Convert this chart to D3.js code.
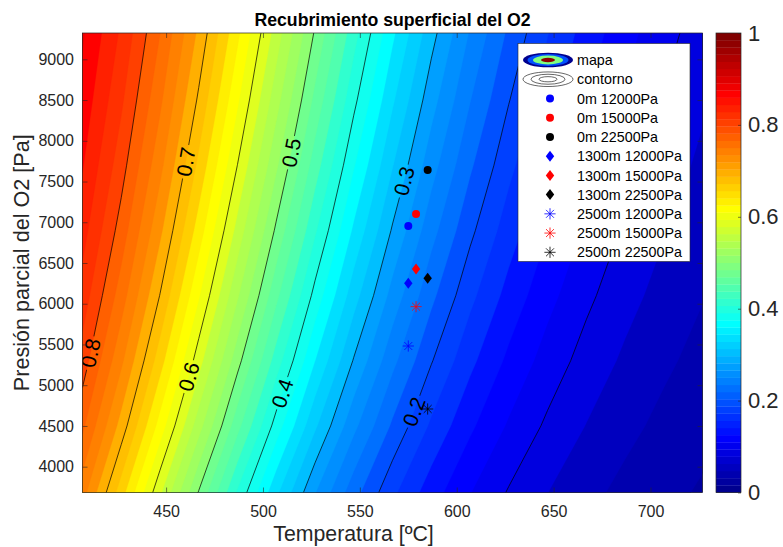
<!DOCTYPE html>
<html><head><meta charset="utf-8">
<script src="https://cdn.jsdelivr.net/npm/d3@7"></script>
<style>
body{margin:0;background:#fff;}
svg text{font-family:"Liberation Sans",Arial,Helvetica,sans-serif;}
</style>
</head><body>
<svg id="chart" width="783" height="547"></svg>
<script>
// ---------------- DATA ----------------
// Grid of the coverage map: temperature columns [ºC] and O2 partial-pressure rows [Pa]
const tempsC = [406.85,426.85,446.85,466.85,486.85,506.85,526.85,546.85,566.85,586.85,606.85,626.85,646.85,666.85,686.85,706.85,726.85];
const pressureRows = [3685,4500,5300,6100,6900,7700,8500,9320];
// surface coverage values, one array per pressure row
const cov3685 = [0.7487,0.6693,0.5841,0.4986,0.4176,0.3445,0.2813,0.2282,0.1846,0.1493,0.1209,0.0983,0.0803,0.0659,0.0544,0.0452,0.0378];
const cov4500 = [0.7843,0.7119,0.6317,0.5484,0.4668,0.3910,0.3234,0.2653,0.2166,0.1765,0.1438,0.1175,0.0964,0.0794,0.0657,0.0547,0.0457];
const cov5300 = [0.8108,0.7443,0.6689,0.5886,0.5077,0.4305,0.3602,0.2984,0.2456,0.2015,0.1652,0.1356,0.1116,0.0922,0.0765,0.0638,0.0534];
const cov6100 = [0.8314,0.7701,0.6993,0.6221,0.5427,0.4653,0.3932,0.3286,0.2726,0.2251,0.1855,0.1529,0.1263,0.1046,0.0870,0.0727,0.0610];
const cov6900 = [0.8480,0.7912,0.7245,0.6506,0.5731,0.4961,0.4230,0.3564,0.2977,0.2473,0.2049,0.1696,0.1406,0.1168,0.0973,0.0814,0.0684];
const cov7700 = [0.8615,0.8087,0.7459,0.6751,0.5997,0.5234,0.4499,0.3819,0.3211,0.2683,0.2233,0.1856,0.1543,0.1285,0.1074,0.0900,0.0758];
const cov8500 = [0.8729,0.8236,0.7642,0.6964,0.6232,0.5480,0.4745,0.4055,0.3430,0.2881,0.2409,0.2010,0.1677,0.1400,0.1172,0.0985,0.0830];
const cov9320 = [0.8828,0.8366,0.7803,0.7155,0.6445,0.5707,0.4975,0.4279,0.3641,0.3074,0.2582,0.2162,0.1809,0.1515,0.1271,0.1069,0.0903];
const coverageRows = [cov3685,cov4500,cov5300,cov6100,cov6900,cov7700,cov8500,cov9320];

const fillStep = 0.02;                       // filled-contour level step
const contourLevels = [0.1,0.2,0.3,0.4,0.5,0.6,0.7,0.8];
const labelLevels = [0.8,0.7,0.6,0.5,0.4,0.3,0.2];
const labelPressures = [5395,7743,5105,7854,4901,7506,4675];

// measured points
const seriesLabels = ["0m 12000Pa","0m 15000Pa","0m 22500Pa","1300m 12000Pa","1300m 15000Pa","1300m 22500Pa","2500m 12000Pa","2500m 15000Pa","2500m 22500Pa"];
const seriesTemp = [575,579,585,575,579,585,575,579,585];
const seriesPressure = [6954,7101,7641,6251,6426,6312,5481,5964,4708];

// ticks
const xTicks = [450,500,550,600,650,700];
const yTicks = [4000,4500,5000,5500,6000,6500,7000,7500,8000,8500,9000];
const cbTicks = [0,0.2,0.4,0.6,0.8,1];

const titleText = "Recubrimiento superficial del O2";
const xLabelText = "Temperatura [ºC]";
const yLabelText = "Presión parcial del O2 [Pa]";
const legendMapText = "mapa";
const legendContourText = "contorno";

// ---------------- STYLES ----------------
const markerColors = ["#0000ff","#ff0000","#000000"];
const markerShapes = ["circle","diamond","star"];
const axisColor = "#262626";

// ---------------- LAYOUT ----------------
const W = 783, H = 547;
const L = 82.5, R = 702.5, T = 33, B = 492.5;

const svg = d3.select("#chart");
const x = d3.scaleLinear().domain([406.85, 726.85]).range([L, R]);
const y = d3.scaleLinear().domain([3683, 9323]).range([B, T]);

// MATLAB jet colormap
function jetMap(m){
  const n = Math.ceil(m/4);
  const u = [];
  for(let i=1;i<=n;i++) u.push(i/n);
  for(let i=1;i<n;i++) u.push(1);
  for(let i=n;i>=1;i--) u.push(i/n);
  const off = Math.ceil(n/2) - (m%4===1?1:0);
  const g = u.map((_,i)=>off+i+1);
  const r = g.map(v=>v+n);
  const b = g.map(v=>v-n);
  const J = Array.from({length:m},()=>[0,0,0]);
  r.forEach((ri,i)=>{ if(ri<=m) J[ri-1][0]=u[i]; });
  g.forEach((gi,i)=>{ if(gi<=m) J[gi-1][1]=u[i]; });
  const bv = b.filter(v=>v>=1);
  bv.forEach((bi,i)=>{ J[bi-1][2]=u[u.length-bv.length+i]; });
  return J.map(c=>d3.rgb(Math.round(c[0]*255),Math.round(c[1]*255),Math.round(c[2]*255)).formatHex());
}
const jet = jetMap(64);
const colorFor = v => jet[Math.max(0, Math.min(63, Math.floor(v*64 + 1e-9)))];

// grid -> data coordinates
const nx = tempsC.length, ny = pressureRows.length;
const values = [].concat(...coverageRows);
const gxToT = d3.scaleLinear().domain(tempsC.map((_,i)=>i+0.5)).range(tempsC);
const gyToP = d3.scaleLinear().domain(pressureRows.map((_,i)=>i+0.5)).range(pressureRows);
const proj = d3.geoTransform({point(px,py){ this.stream.point(x(gxToT(px)), y(gyToP(py))); }});
const path = d3.geoPath(proj);

const defs = svg.append("defs");
defs.append("clipPath").attr("id","plotClip").append("rect")
  .attr("x",L).attr("y",T).attr("width",R-L).attr("height",B-T);

// filled contours
const fillThresholds = d3.range(0, 1 + 1e-9, fillStep).map(v=>+v.toFixed(4));
const fills = d3.contours().size([nx,ny]).thresholds(fillThresholds)(values);
const plotG = svg.append("g").attr("clip-path","url(#plotClip)");
plotG.append("g").selectAll("path").data(fills).join("path")
  .attr("d", path).attr("fill", d=>colorFor(d.value)).attr("stroke", d=>colorFor(d.value)).attr("stroke-width",0.3);

// contour lines
const lines = d3.contours().size([nx,ny]).thresholds(contourLevels)(values);

// label positions on contour lines
const labelFont = 21;
const labels = [];
labelLevels.forEach((lev, k) => {
  const Pl = labelPressures[k];
  const c = lines.find(d => Math.abs(d.value - lev) < 1e-6);
  if(!c) return;
  let found = null;
  c.coordinates.forEach(poly => poly.forEach(ring => {
    for(let i=0;i<ring.length-1 && !found;i++){
      const a = ring[i], b = ring[i+1];
      const Ta = gxToT(a[0]), Tb = gxToT(b[0]), Pa = gyToP(a[1]), Pb = gyToP(b[1]);
      if(a[0] < 0.5 || b[0] < 0.5 || a[0] > nx-0.5 || b[0] > nx-0.5) continue;
      if(a[1] < 0.5 || b[1] < 0.5 || a[1] > ny-0.5 || b[1] > ny-0.5) continue;
      if((Pa - Pl)*(Pb - Pl) <= 0 && Pa !== Pb){
        const t = (Pl - Pa)/(Pb - Pa);
        const Tl = Ta + t*(Tb - Ta);
        let dx = x(Tb)-x(Ta), dy = y(Pb)-y(Pa);
        if(dy > 0){ dx = -dx; dy = -dy; }
        found = {lev, cx: x(Tl), cy: y(Pl), ang: Math.atan2(dy, dx)*180/Math.PI};
      }
    }
  }));
  if(found) labels.push(found);
});

const mask = defs.append("mask").attr("id","labelMask").attr("maskUnits","userSpaceOnUse")
  .attr("x",0).attr("y",0).attr("width",W).attr("height",H);
mask.append("rect").attr("x",0).attr("y",0).attr("width",W).attr("height",H).attr("fill","#fff");
mask.selectAll("rect.hole").data(labels).join("rect").attr("class","hole")
  .attr("x",-17).attr("y",-8.5).attr("width",34).attr("height",17).attr("fill","#000")
  .attr("transform", d=>`translate(${d.cx},${d.cy}) rotate(${d.ang})`);

plotG.append("g").attr("mask","url(#labelMask)").selectAll("path").data(lines).join("path")
  .attr("d", path).attr("fill","none").attr("stroke","#000").attr("stroke-width",0.7);

plotG.append("g").selectAll("text").data(labels).join("text")
  .attr("transform", d=>`translate(${d.cx},${d.cy}) rotate(${d.ang})`)
  .attr("text-anchor","middle").attr("dy","0.36em")
  .attr("font-size",labelFont).attr("fill","#000")
  .text(d=>d3.format(".1f")(d.lev));

// markers
function drawMarker(g, shape, cx, cy, color){
  if(shape==="circle"){
    g.append("circle").attr("cx",cx).attr("cy",cy).attr("r",4).attr("fill",color);
  } else if(shape==="diamond"){
    g.append("path").attr("d",`M${cx},${cy-5.5}L${cx+4.2},${cy}L${cx},${cy+5.5}L${cx-4.2},${cy}Z`).attr("fill",color);
  } else {
    const r = 5.6, q = r*0.7071;
    g.append("path").attr("d",`M${cx-r},${cy}L${cx+r},${cy}M${cx},${cy-r}L${cx},${cy+r}M${cx-q},${cy-q}L${cx+q},${cy+q}M${cx-q},${cy+q}L${cx+q},${cy-q}`)
      .attr("stroke",color).attr("stroke-width",0.8).attr("fill","none");
  }
}
const markG = svg.append("g");
seriesLabels.forEach((s,i)=>{
  drawMarker(markG, markerShapes[Math.floor(i/3)], x(seriesTemp[i]), y(seriesPressure[i]), markerColors[i%3]);
});

// axes
const gx = svg.append("g").attr("transform",`translate(0,${B})`)
  .call(d3.axisBottom(x).tickValues(xTicks).tickSize(-5).tickPadding(13).tickFormat(d3.format("d")));
const gy = svg.append("g").attr("transform",`translate(${L},0)`)
  .call(d3.axisLeft(y).tickValues(yTicks).tickSize(-5).tickPadding(8.5).tickFormat(d3.format("d")));
const gxt = svg.append("g").attr("transform",`translate(0,${T})`)
  .call(d3.axisTop(x).tickValues(xTicks).tickSize(-5).tickFormat(""));
const gyr = svg.append("g").attr("transform",`translate(${R},0)`)
  .call(d3.axisRight(y).tickValues(yTicks).tickSize(-5).tickFormat(""));
[gx,gy,gxt,gyr].forEach(g=>{
  g.select(".domain").remove();
  g.selectAll("line").attr("stroke",axisColor).attr("stroke-width",0.6);
  g.selectAll("text").attr("font-size",16).attr("fill",axisColor)
    .attr("font-family","'Liberation Sans',Arial,sans-serif");
});
svg.append("rect").attr("x",L).attr("y",T).attr("width",R-L).attr("height",B-T)
  .attr("fill","none").attr("stroke",axisColor).attr("stroke-width",0.7);

// titles
svg.append("text").attr("x",(L+R)/2).attr("y",26).attr("text-anchor","middle")
  .attr("font-size",17.7).attr("font-weight","bold").attr("fill","#000").text(titleText);
svg.append("text").attr("x",353.5).attr("y",541).attr("text-anchor","middle")
  .attr("font-size",21.3).attr("fill",axisColor).text(xLabelText);
svg.append("text").attr("transform",`translate(29,${(T+B)/2}) rotate(-90)`).attr("text-anchor","middle")
  .attr("font-size",21.6).attr("fill",axisColor).text(yLabelText);

// colorbar
const cbL = 716, cbR = 741;
const cb = d3.scaleLinear().domain([0,1]).range([B,T]);
const cbG = svg.append("g");
cbG.selectAll("rect").data(jet).join("rect")
  .attr("x",cbL).attr("width",cbR-cbL)
  .attr("y",(d,i)=>cb((i+1)/64)).attr("height",(d,i)=>cb(i/64)-cb((i+1)/64)+0.3)
  .attr("fill",d=>d);
svg.append("rect").attr("x",cbL).attr("y",T).attr("width",cbR-cbL).attr("height",B-T)
  .attr("fill","none").attr("stroke",axisColor).attr("stroke-width",0.7);
const gcb = svg.append("g").attr("transform",`translate(${cbR},0)`)
  .call(d3.axisRight(cb).tickValues(cbTicks).tickSize(-3).tickPadding(7).tickFormat(d=>d3.format("")(d)));
gcb.select(".domain").remove();
gcb.selectAll("line").attr("stroke",axisColor).attr("stroke-width",0.6);
gcb.selectAll("text").attr("font-size",22).attr("fill",axisColor)
  .attr("font-family","'Liberation Sans',Arial,sans-serif");

// legend
const lgX = 518, lgY = 43.5, lgW = 172, lgH = 218, rowH = 19.23, row0 = 60;
const lg = svg.append("g");
lg.append("rect").attr("x",lgX).attr("y",lgY).attr("width",lgW).attr("height",lgH)
  .attr("fill","#fff").attr("stroke",axisColor).attr("stroke-width",0.6);
const icx = 548, txX = 577;
// mapa icon
[[25,7.3,"#00008f"],[20.5,5.9,"#0050ff"],[15,4.4,"#80ff80"],[7,2.2,"#8f0000"]].forEach(e=>{
  lg.append("ellipse").attr("cx",icx).attr("cy",row0).attr("rx",e[0]).attr("ry",e[1]).attr("fill",e[2]);
});
// contorno icon
[[25,7.3],[17,5],[9,2.6]].forEach(e=>{
  lg.append("ellipse").attr("cx",icx).attr("cy",row0+rowH).attr("rx",e[0]).attr("ry",e[1])
    .attr("fill","none").attr("stroke","#000").attr("stroke-width",0.6);
});
const legendTexts = [legendMapText, legendContourText].concat(seriesLabels);
legendTexts.forEach((t,i)=>{
  lg.append("text").attr("x",txX).attr("y",row0+i*rowH).attr("dy","0.36em")
    .attr("font-size",14.3).attr("fill","#000").text(t);
});
seriesLabels.forEach((s,i)=>{
  drawMarker(lg, markerShapes[Math.floor(i/3)], 550, row0+(i+2)*rowH, markerColors[i%3]);
});
</script>
</body></html>
